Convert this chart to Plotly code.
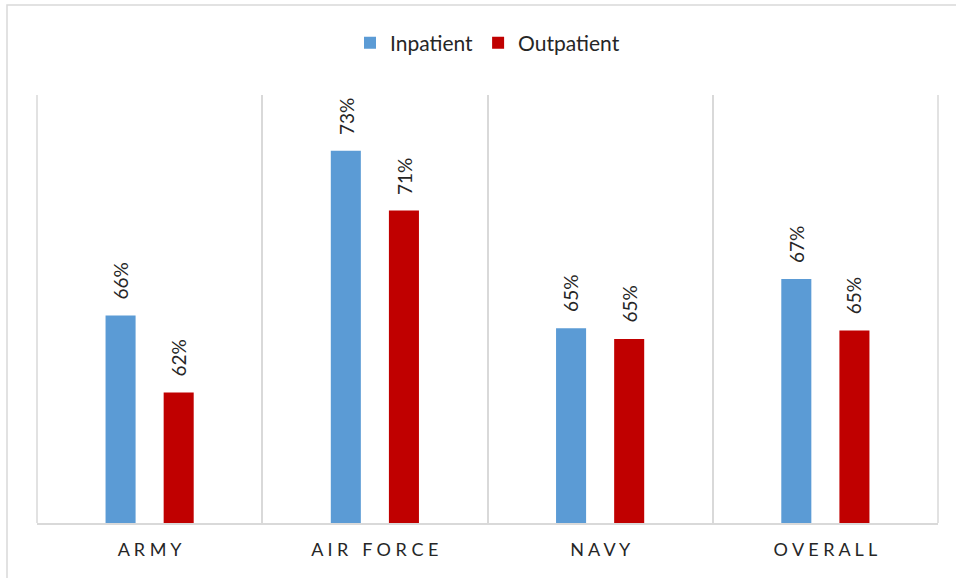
import plotly.graph_objects as go

# Share of patients by service branch
categories = ["ARMY", "AIR FORCE", "NAVY", "OVERALL"]
tick_labels = ["A R M Y", "A I R\u00a0\u00a0 F O R C E", "N A V Y", "O V E R A L L"]
inpatient = [65.7, 73.4, 65.1, 67.4]
outpatient = [62.1, 70.6, 64.6, 65.0]

FONT = "Lato"
TEXT = "#262626"
GRID = "#d9d9d9"

fig = go.Figure()
fig.add_trace(go.Bar(name="Inpatient", x=categories, y=inpatient,
                     marker=dict(color="#5B9BD5", line=dict(width=0))))
fig.add_trace(go.Bar(name="Outpatient", x=categories, y=outpatient,
                     marker=dict(color="#C00000", line=dict(width=0))))

# Rotated value labels above each bar
annotations = []
for values, shift in ((inpatient, -29), (outpatient, 29)):
    for cat, v in zip(categories, values):
        annotations.append(dict(
            x=cat, y=v, xref="x", yref="y", text=f"{v:.0f}%",
            showarrow=False, textangle=-90, xanchor="center", yanchor="bottom",
            xshift=shift, yshift=14, font=dict(family=FONT, size=19, color=TEXT),
        ))

shapes = [
    # chart frame
    dict(type="rect", xref="paper", yref="paper",
         x0=-0.0333, x1=1.2, y0=-0.3, y1=1.2103,
         line=dict(color=GRID, width=1.5), layer="below"),
    # outer category dividers
    dict(type="line", xref="paper", yref="paper", x0=0, x1=0, y0=0, y1=1,
         line=dict(color=GRID, width=1.5), layer="below"),
    dict(type="line", xref="paper", yref="paper", x0=1, x1=1, y0=0, y1=1,
         line=dict(color=GRID, width=1.5), layer="below"),
]

fig.update_layout(
    width=956, height=578,
    margin=dict(l=37, r=18, t=95, b=55),
    paper_bgcolor="white", plot_bgcolor="white",
    barmode="group", bargap=0.484, bargroupgap=0.483,
    font=dict(family=FONT, color=TEXT),
    showlegend=True,
    legend=dict(orientation="h", x=0.5, xanchor="center", y=1.1215, yanchor="middle",
                font=dict(family=FONT, size=21, color=TEXT), itemwidth=30,
                traceorder="normal"),
    annotations=annotations,
    shapes=shapes,
)
fig.update_xaxes(
    tickson="boundaries", showgrid=True, gridcolor=GRID, gridwidth=1.5,
    showline=True, linecolor=GRID, linewidth=1.5, ticks="",
    tickvals=categories, ticktext=tick_labels, ticklabelstandoff=10,
    tickfont=dict(family=FONT, size=18, color=TEXT),
)
fig.update_yaxes(range=[56, 76], visible=False, showgrid=False, zeroline=False)

fig.write_html("out.html")
